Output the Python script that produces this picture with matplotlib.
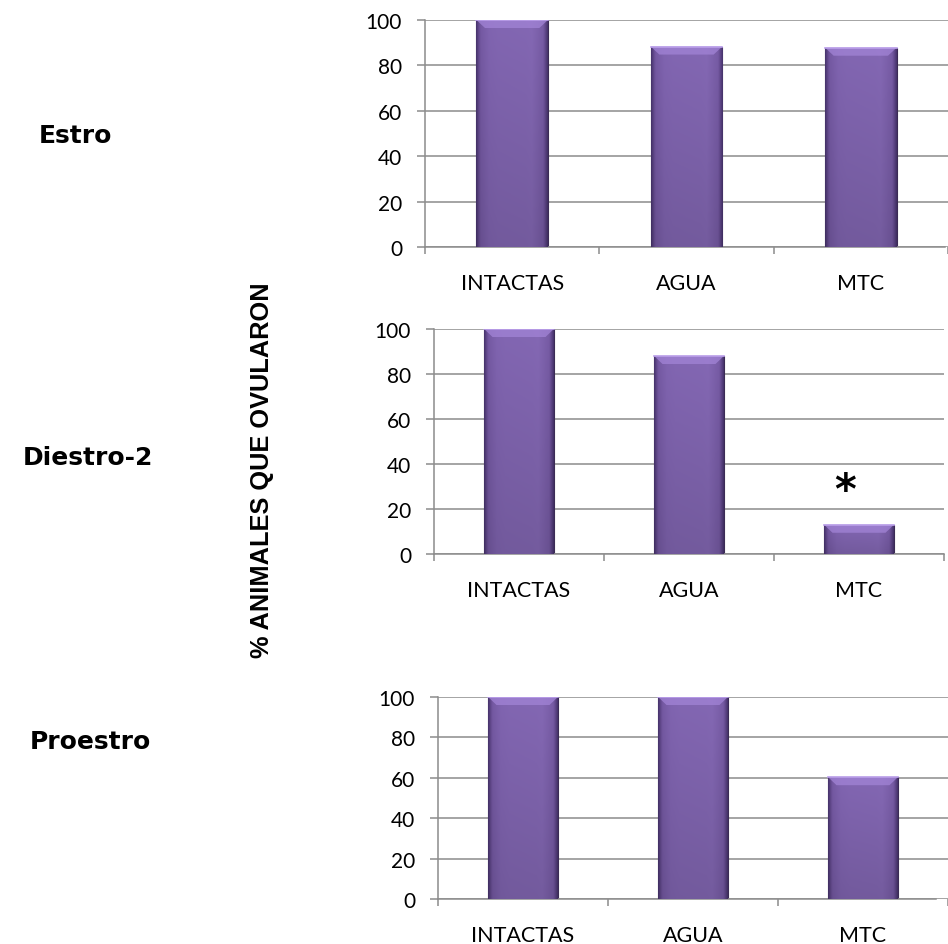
import numpy as np
import matplotlib
matplotlib.use("Agg")
import matplotlib.pyplot as plt
from matplotlib.colors import LinearSegmentedColormap

groups = ["INTACTAS", "AGUA", "MTC"]
phases = ["Estro", "Diestro-2", "Proestro"]
estro = [100, 88.3, 87.8]
diestro2 = [100, 88, 13]
proestro = [100, 100, 60.3]
yticks = [0, 20, 40, 60, 80, 100]
ylabel = "% ANIMALES QUE OVULARON"

GRID = "#8c8c8c"
bar_cmap = LinearSegmentedColormap.from_list(
    "bevel", ["#4a3670", "#6a4f96", "#8064b0", "#8468b4", "#6a4f96", "#4a3670"])


def shade_bars(ax, bars, px_per_unit):
    xs = np.linspace(0, 1, 64)
    ys = np.linspace(0, 1, 64)
    horiz = np.interp(xs, [0, 0.06, 0.3, 0.7, 0.94, 1], [0, 0.3, 0.5, 0.55, 0.7, 1.0])
    vert = np.interp(ys, [0, 1], [0.88, 1.0])
    bev = 8 / px_per_unit  # bevel height in data units
    for p in bars:
        x0, y0 = p.get_x(), p.get_y()
        w, h = p.get_width(), p.get_height()
        img = bar_cmap(horiz)[None, :, :3] * vert[:, None, None]
        im = ax.imshow(img, extent=(x0, x0 + w, y0, y0 + h), origin="lower",
                       aspect="auto", zorder=3, interpolation="bilinear")
        im.set_clip_path(p)
        # light bevel on top edge
        b = min(bev, h * 0.45)
        ax.fill([x0, x0 + w, x0 + w * 0.88, x0 + w * 0.12],
                [y0 + h, y0 + h, y0 + h - b, y0 + h - b],
                color="#a284d6", alpha=0.75, lw=0, zorder=4)
        ax.plot([x0, x0 + w], [y0 + h, y0 + h], color="#bba0ea", lw=1.2, zorder=4)


def panel(fig, rect, values, xmax, px_per_unit):
    ax = fig.add_axes(rect)
    bars = ax.bar(range(len(groups)), values, width=0.41, color="#7a5ca8",
                  edgecolor="#3b2b55", linewidth=0.8, zorder=2)
    shade_bars(ax, bars, px_per_unit)
    ax.set_xlim(-0.5, xmax)
    ax.set_ylim(0, 100)
    ax.set_yticks(yticks)
    ax.yaxis.grid(True, color=GRID, lw=1.1, zorder=0)
    ax.set_axisbelow(True)
    ax.set_xticks(range(len(groups)))
    ax.set_xticklabels(groups, fontsize=15.5, family="Lato")
    ax.set_xticks(np.arange(-0.5, len(groups)), minor=True)
    ax.tick_params(axis="x", which="major", length=0, pad=19)
    ax.tick_params(axis="x", which="minor", length=5, color=GRID, width=1.1)
    ax.tick_params(axis="y", length=5.5, color=GRID, width=1.1, pad=11,
                   labelsize=15)
    for t in ax.get_yticklabels():
        t.set_family("Lato")
    for s in ("top", "right"):
        ax.spines[s].set_visible(False)
    for s in ("left", "bottom"):
        ax.spines[s].set_color(GRID)
        ax.spines[s].set_linewidth(1.1)
    ax.spines["bottom"].set_bounds(-0.5, xmax)
    return ax


fig = plt.figure(figsize=(9.48, 9.45), dpi=100)
W, H = 948, 945


def rect(left, right, top, bottom):
    return [left / W, 1 - bottom / H, (right - left) / W, (bottom - top) / H]


ax1 = panel(fig, rect(425, 948, 21, 248), estro, (948 - 425) / 175.5 - 0.5, 2.27)
ax2 = panel(fig, rect(434, 944, 330, 555), diestro2, 2.5, 2.25)
ax3 = panel(fig, rect(438, 948, 698, 900), proestro, (948 - 438) / 174 - 0.5, 2.02)

ax2.text(1.92, 28, "*", fontsize=30, fontweight="bold", ha="center",
         va="center", family="DejaVu Sans")

for name, (x, y) in zip(phases, [(75, 136), (88, 458), (90, 742)]):
    fig.text(x / W, 1 - y / H, name, fontsize=18, fontweight="bold",
             ha="center", va="center", family="DejaVu Sans")

fig.text(262 / W, 1 - 470 / H, ylabel, rotation=90, fontsize=18.3,
         fontweight="bold", ha="center", va="center", family="Liberation Sans")

fig.savefig("out.png", dpi=100)
